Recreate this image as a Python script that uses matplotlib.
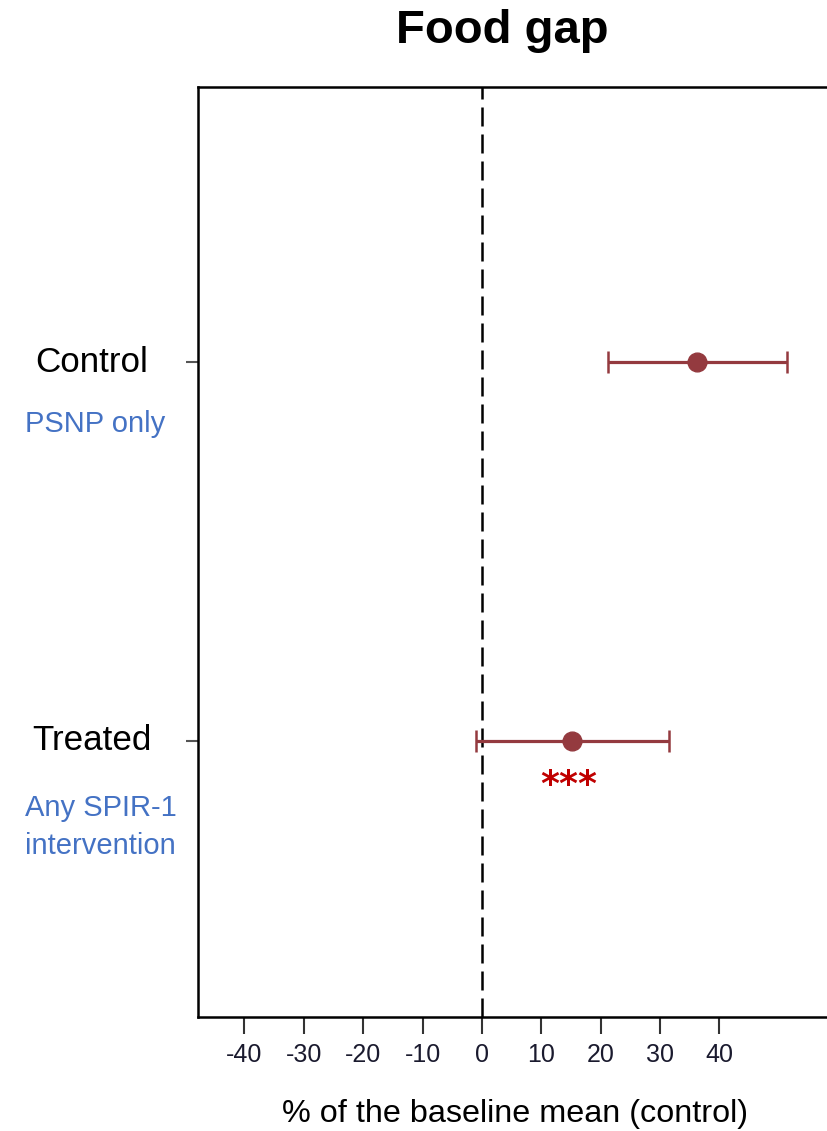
import matplotlib

matplotlib.use("Agg")
import matplotlib.pyplot as plt

plt.rcParams["font.family"] = ["Liberation Sans", "DejaVu Sans"]

# Point estimates and 95% CIs, as % of the baseline mean (control)
groups = ["Control", "Treated"]
subtitles = [["PSNP only"], ["Any SPIR-1", "intervention"]]
estimates = [36.2, 15.2]
ci_low = [21.2, -1.0]
ci_high = [51.4, 31.5]
stars = ["", "***"]
xticks = [-40, -30, -20, -10, 0, 10, 20, 30, 40]

MARK = "#943a3f"
STAR = "#c00000"
BLUE = "#4472c4"

W, H = 828, 1131
fig = plt.figure(figsize=(W / 100, H / 100), dpi=100)

# axes runs past the right edge of the figure on purpose
left, right, top, bottom = 198, 900, 87, 1017
ax = fig.add_axes([left / W, 1 - bottom / H, (right - left) / W, (bottom - top) / H])

ypos = [2, 1]
px_per_unit = (719 - 244) / 80
ax.set_xlim((left - 482) / px_per_unit, (right - 482) / px_per_unit)
ax.set_ylim(0.272, 2.726)

ax.axvline(0, color="black", lw=1.8, dashes=(7.6, 3.2), zorder=1)

for y, est, lo, hi in zip(ypos, estimates, ci_low, ci_high):
    ax.errorbar(
        est, y, xerr=[[est - lo], [hi - est]],
        fmt="o", color=MARK, ms=13.5, elinewidth=2.3,
        capsize=8, capthick=1.8, zorder=3,
    )

for y, est, s in zip(ypos, estimates, stars):
    if s:
        ax.annotate(s, (est, y), textcoords="offset points", xytext=(-2.5, -39),
                    ha="center", va="baseline", color=STAR, fontsize=26,
                    fontweight="bold", family="DejaVu Sans")

for side in ["left", "bottom", "top", "right"]:
    ax.spines[side].set_linewidth(1.8)

ax.set_xticks(xticks)
ax.set_xticklabels([str(t) for t in xticks], fontsize=18, color="#1a1a2e")
ax.tick_params(axis="x", length=12, width=1.5, pad=7, color="#333333")
ax.set_yticks(ypos)
ax.set_yticklabels([])
ax.tick_params(axis="y", length=9, width=1.5, color="#555555")

fig.text(502 / W, 1 - 31 / H, "Food gap", ha="center", va="center",
         fontsize=34, fontweight="bold")
fig.text(515 / W, 1 - 1114 / H, "% of the baseline mean (control)",
         ha="center", va="center", fontsize=23.3)

label_y = [362, 741]
sub_y = [[424], [808, 846]]
for name, ly, subs, sy in zip(groups, label_y, subtitles, sub_y):
    fig.text(92 / W, 1 - ly / H, name, ha="center", va="center", fontsize=25.2)
    for line, yy in zip(subs, sy):
        fig.text(25 / W, 1 - yy / H, line, ha="left", va="center",
                 fontsize=21, color=BLUE)

fig.savefig("out.png", dpi=100)
